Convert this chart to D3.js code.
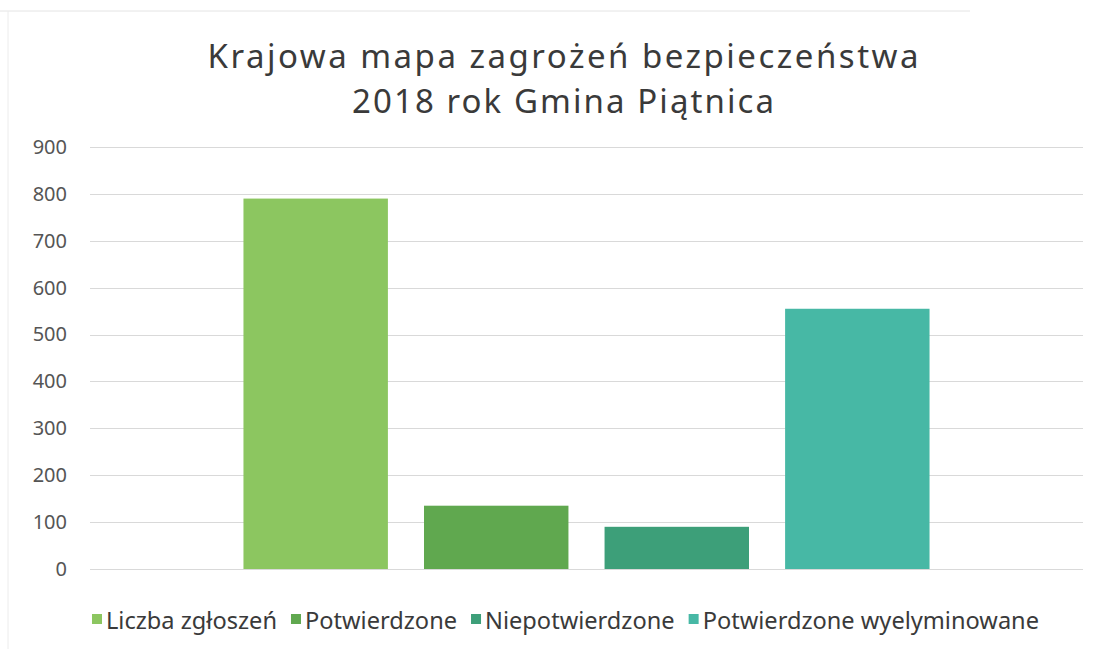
<!DOCTYPE html>
<html>
<head>
<meta charset="utf-8">
<title>Krajowa mapa zagrożeń</title>
<style>
	body { margin: 0; background: #fff; }
	svg { display: block; font-family: "Noto Sans", "DejaVu Sans", sans-serif; }
</style>
</head>
<body>
<script src="https://cdnjs.cloudflare.com/ajax/libs/d3/7.8.5/d3.min.js"></script>
<script>

// dane z wykresu
var titleLines = ['Krajowa mapa zagrożeń bezpieczeństwa', '2018 rok Gmina Piątnica'];
var series = ['Liczba zgłoszeń', 'Potwierdzone', 'Niepotwierdzone', 'Potwierdzone wyelyminowane'];
var values = [790, 135, 90, 555];
var colors = ['#8cc660', '#60a84f', '#3d9f79', '#47b8a5'];
var yTicks = [0, 100, 200, 300, 400, 500, 600, 700, 800, 900];

var W = 1096, H = 649;
var plot = { left: 90, right: 1083, top: 147, bottom: 569 };

var svg = d3.select('body').append('svg')
	.attr('width', W)
	.attr('height', H);

// delikatna ramka (skan)
svg.append('line').attr('x1', 0).attr('x2', 970).attr('y1', 11).attr('y2', 11)
	.attr('stroke', '#e4e4e4').attr('stroke-width', 1);
svg.append('line').attr('x1', 8).attr('x2', 8).attr('y1', 11).attr('y2', H)
	.attr('stroke', '#ececec').attr('stroke-width', 1);

var y = d3.scaleLinear().domain([0, 900]).range([plot.bottom, plot.top]);
var x = d3.scaleBand().domain(series)
	.range([plot.left, plot.right])
	.paddingInner(0.2)
	.paddingOuter(0.85);

// linie siatki
svg.append('g').selectAll('line').data(yTicks).enter().append('line')
	.attr('x1', plot.left).attr('x2', plot.right)
	.attr('y1', function(d){ return Math.round(y(d)) + 0.5; })
	.attr('y2', function(d){ return Math.round(y(d)) + 0.5; })
	.attr('stroke', '#d9d9d9')
	.attr('stroke-width', 1);

// oś Y
var yAxis = svg.append('g')
	.attr('transform', 'translate(' + (plot.left - 23) + ',0)')
	.call(d3.axisLeft(y).tickValues(yTicks).tickSize(0).tickPadding(0));
yAxis.select('.domain').remove();
yAxis.selectAll('text')
	.attr('font-size', 20)
	.attr('font-family', '"Noto Sans", "DejaVu Sans", sans-serif')
	.attr('fill', '#555');

// słupki
svg.append('g').selectAll('rect').data(series).enter().append('rect')
	.attr('x', function(d){ return x(d); })
	.attr('width', x.bandwidth())
	.attr('y', function(d, i){ return y(values[i]); })
	.attr('height', function(d, i){ return y(0) - y(values[i]); })
	.attr('fill', function(d, i){ return colors[i]; });

// tytuł – szeroki krój, więc rozstrzelenie liter
var titleWidths = [711, 422];
var title = svg.append('g');
title.selectAll('text').data(titleLines).enter().append('text')
	.attr('x', 563)
	.attr('y', function(d, i){ return 68 + i * 45; })
	.attr('text-anchor', 'middle')
	.attr('font-size', 33)
	.attr('fill', '#3a3a3a')
	.attr('textLength', function(d, i){ return titleWidths[i]; })
	.attr('lengthAdjust', 'spacing')
	.text(function(d){ return d; });

// legenda
var legend = svg.append('g');
var items = legend.selectAll('g').data(series).enter().append('g');
items.append('rect')
	.attr('width', 10).attr('height', 10)
	.attr('y', -8)
	.attr('fill', function(d, i){ return colors[i]; });
items.append('text')
	.attr('x', 14)
	.attr('y', 0)
	.attr('dy', '0.3em')
	.attr('font-size', 20)
	.attr('fill', '#3a3a3a')
	.text(function(d){ return d; });
// szerokość legendy ~ 83..1048
var widths = [];
items.each(function(){ widths.push(d3.select(this).select('text').node().getComputedTextLength() + 14); });
var gap = 14;
var total = d3.sum(widths) + gap * (widths.length - 1);
var scaleF = (1048 - 83) / total;
if (scaleF < 1.3 && scaleF > 0.7) {
	items.select('text').attr('font-size', 20 * scaleF);
	widths = [];
	items.each(function(){ widths.push(d3.select(this).select('text').node().getComputedTextLength() + 14); });
	total = d3.sum(widths) + gap * (widths.length - 1);
}
var cx = 83 + ((1048 - 83) - total) / 2;
items.attr('transform', function(d, i){
	var px = cx + d3.sum(widths.slice(0, i)) + gap * i;
	return 'translate(' + px + ',' + 622 + ')';
});

</script>
</body>
</html>
